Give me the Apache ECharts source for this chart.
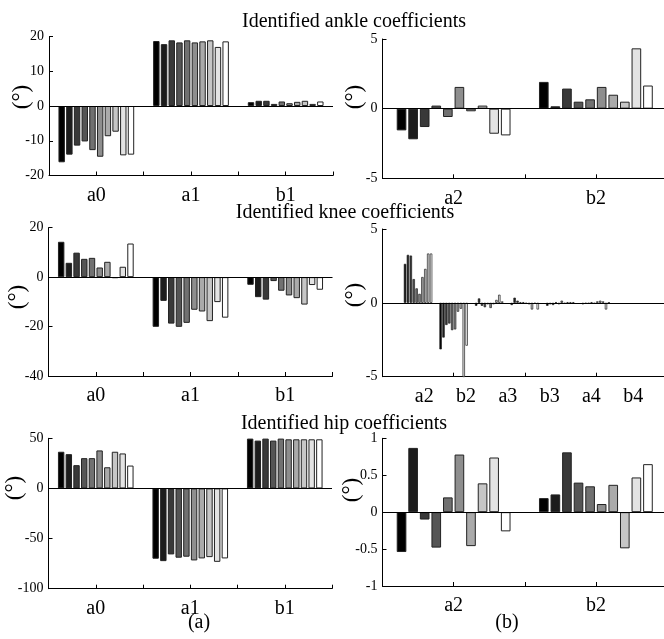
<!DOCTYPE html>
<html>
<head>
<meta charset="utf-8">
<script src="https://cdn.jsdelivr.net/npm/echarts@6/dist/echarts.min.js"></script>
<style>html,body{margin:0;padding:0;background:#fff}#c{width:664px;height:639px}</style>
</head>
<body>
<div id="c"></div>
<script>
// ---------- data ----------
const catsA = ['a0', 'a1', 'b1'];
const catsB = ['a2', 'b2'];
const catsKneeB = ['a2', 'b2', 'a3', 'b3', 'a4', 'b4'];

const ankleA0 = [-16.2, -14.0, -11.4, -10.2, -12.7, -14.6, -8.7, -7.4, -14.2, -14.0];
const ankleA1 = [18.7, 17.8, 18.9, 18.3, 18.9, 18.3, 18.6, 18.9, 17.0, 18.6];
const ankleB1 = [1.1, 1.5, 1.5, 0.6, 1.3, 0.8, 1.2, 1.5, 0.6, 1.3];
const ankleA2 = [-1.56, -2.2, -1.32, 0.22, -0.6, 1.56, -0.19, 0.22, -1.8, -1.92];
const ankleB2 = [1.92, 0.17, 1.44, 0.5, 0.67, 1.56, 1.0, 0.5, 4.33, 1.66];

const kneeA0 = [14.3, 5.8, 9.9, 7.4, 7.8, 3.9, 6.2, -0.4, 4.2, 13.6];
const kneeA1 = [-20.1, -9.6, -18.8, -20.1, -18.5, -13.2, -13.9, -17.8, -10.1, -16.4];
const kneeB1 = [-3.1, -8.1, -9.1, -1.6, -5.5, -7.4, -8.5, -11.1, -3.2, -5.1];
const kneeA2 = [2.64, 3.25, 3.2, 1.61, 0.98, 0.61, 1.75, 2.3, 3.34, 3.34];
const kneeB2 = [-3.15, -2.35, -1.5, -1.4, -1.85, -1.8, -0.6, -0.4, -5.05, -2.9];
const kneeA3 = [-0.2, 0.3, -0.2, -0.3, -0.1, -0.35, -0.1, 0.2, 0.55, 0.1];
const kneeB3 = [-0.15, 0.35, 0.15, 0.05, 0.05, -0.05, -0.1, -0.45, -0.05, -0.45];
const kneeA4 = [-0.2, -0.1, -0.15, 0.05, -0.1, 0.15, -0.05, 0.05, 0.05, 0.05];
const kneeB4 = [-0.1, -0.05, -0.05, 0.05, -0.05, 0.1, 0.15, 0.1, -0.45, 0.02];

const hipA0 = [36.6, 34.2, 23.2, 30.2, 30.2, 37.9, 21.1, 36.6, 34.9, 22.8];
const hipA1 = [-70.1, -72.5, -65.8, -69.1, -68.1, -71.8, -69.8, -68.5, -73.2, -69.8];
const hipB1 = [49.7, 47.7, 49.7, 47.7, 49.7, 49.0, 49.0, 49.0, 49.0, 49.0];
const hipA2 = [-0.54, 0.87, -0.1, -0.48, 0.2, 0.78, -0.46, 0.39, 0.74, -0.26];
const hipB2 = [0.19, 0.24, 0.81, 0.40, 0.35, 0.11, 0.37, -0.49, 0.47, 0.65];

const titles = ['Identified ankle coefficients', 'Identified knee coefficients', 'Identified hip coefficients'];
const grays = ['#000000', '#1c1c1c', '#393939', '#555555', '#717171', '#8e8e8e', '#aaaaaa', '#c6c6c6', '#e3e3e3', '#ffffff'];

// ---------- layout ----------
const FONT = '"Liberation Serif", "Times New Roman", serif';
const panels = [
  { grid: { left: 49, top: 36.5, width: 284, height: 139 }, y: [-20, 20, 10], x: [0.5, 3.5, 0.5], cats: catsA, groups: [ankleA0, ankleA1, ankleB1], ylab: [22, 97] },
  { grid: { left: 382.5, top: 39, width: 284.5, height: 139.3 }, y: [-5, 5, 5], x: [0.5, 2.5, 0.5], cats: catsB, groups: [ankleA2, ankleB2], ylab: [355, 97] },
  { grid: { left: 48.5, top: 227.7, width: 284, height: 148.3 }, y: [-40, 20, 20], x: [0.5, 3.5, 0.5], cats: catsA, groups: [kneeA0, kneeA1, kneeB1], ylab: [18, 297] },
  { grid: { left: 382.5, top: 229, width: 284.5, height: 147.7 }, y: [-5, 5, 5], x: [0, 8, 2], cats: null, labelCats: catsKneeB, labelStep: 1.175, groups: [kneeA2, kneeB2, kneeA3, kneeB3, kneeA4, kneeB4], ylab: [355, 295] },
  { grid: { left: 48.5, top: 438.3, width: 283.5, height: 150.4 }, y: [-100, 50, 50], x: [0.5, 3.5, 0.5], cats: catsA, groups: [hipA0, hipA1, hipB1], ylab: [15, 488] },
  { grid: { left: 382.5, top: 438.3, width: 284.5, height: 147.7 }, y: [-1, 1, 0.5], x: [0.5, 2.5, 0.5], cats: catsB, groups: [hipA2, hipB2], ylab: [352, 490] }
];

const grid = [], xAxis = [], yAxis = [], series = [];
panels.forEach((p, pi) => {
  grid.push(Object.assign({ containLabel: false, outerBoundsMode: 'none' }, p.grid));
  yAxis.push({
    type: 'value', gridIndex: pi, min: p.y[0], max: p.y[1], interval: p.y[2],
    axisLine: { show: true, lineStyle: { color: '#000', width: 1 } },
    axisTick: { show: true, inside: true, length: 4, lineStyle: { color: '#000' } },
    axisLabel: { color: '#000', fontSize: 14, fontFamily: FONT, margin: 5 },
    splitLine: { show: false }
  });
  const cats = p.cats;
  const xi = xAxis.length;
  xAxis.push({
    type: 'value', gridIndex: pi, position: 'bottom', min: p.x[0], max: p.x[1], interval: p.x[2],
    axisLine: { show: true, onZero: false, lineStyle: { color: '#000', width: 1 } },
    axisTick: { show: true, inside: true, length: 4, lineStyle: { color: '#000' } },
    axisLabel: {
      show: !!cats, color: '#000', fontSize: 20, fontFamily: FONT, margin: 10, showMinLabel: true, showMaxLabel: true,
      formatter: v => {
        if (!cats) return '';
        const r = Math.round(v);
        return (Math.abs(v - r) < 1e-6 && cats[r - 1]) ? cats[r - 1] : '';
      }
    },
    splitLine: { show: false }
  });
  if (p.labelCats) {
    const lc = p.labelCats, st = p.labelStep;
    xAxis.push({
      type: 'value', gridIndex: pi, position: 'bottom', min: 0, max: p.x[1], interval: st,
      axisLine: { show: false, onZero: false }, axisTick: { show: false }, splitLine: { show: false },
      axisLabel: {
        color: '#000', fontSize: 20, fontFamily: FONT, margin: 10, showMinLabel: true, showMaxLabel: true,
        formatter: v => {
          const k = Math.round(v / st);
          return (Math.abs(v - k * st) < 1e-4 && lc[k - 1]) ? lc[k - 1] : '';
        }
      }
    });
  }
  for (let s = 0; s < 10; s++) {
    const ser = {
      type: 'bar', xAxisIndex: xi, yAxisIndex: pi,
      data: p.groups.map((g, gi) => [gi + 1, g[s]]),
      barGap: '20%', barCategoryGap: '20%',
      itemStyle: { color: grays[s], borderColor: '#222', borderWidth: pi === 3 ? 0.7 : 1 },
      silent: true, animation: false
    };
    if (s === 0) {
      ser.markLine = {
        silent: true, symbol: 'none', animation: false, label: { show: false },
        lineStyle: { color: '#000', width: 1, type: 'solid' },
        data: [{ yAxis: 0 }]
      };
    }
    series.push(ser);
  }
});

const graphic = [];
const titlePos = [[354, 22], [345, 213], [344, 424]];
titles.forEach((t, i) => graphic.push({
  type: 'text', x: titlePos[i][0], y: titlePos[i][1],
  style: { text: t, fill: '#000', font: '20px ' + FONT, textAlign: 'center', textVerticalAlign: 'middle' }
}));
panels.forEach(p => graphic.push({
  type: 'text', x: p.ylab[0], y: p.ylab[1], rotation: Math.PI / 2,
  style: { text: '(°)', fill: '#000', font: '23px ' + FONT, textAlign: 'center', textVerticalAlign: 'middle' }
}));
graphic.push({ type: 'text', x: 199, y: 623, style: { text: '(a)', fill: '#000', font: '20px ' + FONT, textAlign: 'center', textVerticalAlign: 'middle' } });
graphic.push({ type: 'text', x: 507, y: 623, style: { text: '(b)', fill: '#000', font: '20px ' + FONT, textAlign: 'center', textVerticalAlign: 'middle' } });

const chart = echarts.init(document.getElementById('c'), null, { renderer: 'canvas' });
chart.setOption({ animation: false, backgroundColor: '#fff', grid, xAxis, yAxis, series, graphic });
</script>
</body>
</html>
